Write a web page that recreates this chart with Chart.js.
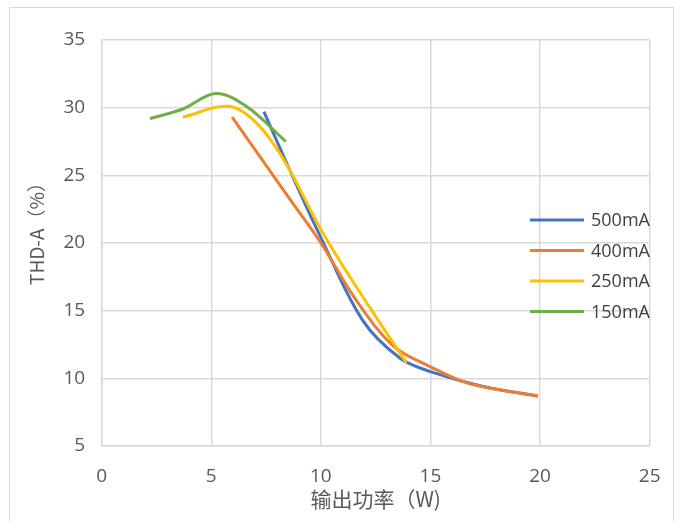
<!DOCTYPE html>
<html>
<head>
<meta charset="utf-8">
<script src="https://cdn.jsdelivr.net/npm/chart.js@4/dist/chart.umd.min.js"></script>
<style>
  html, body { margin: 0; padding: 0; background: #fff; }
  #wrap { position: relative; width: 680px; height: 521px; overflow: hidden; }
  #frame { position: absolute; left: 9px; top: 7px; width: 663px; height: 600px; border: 1px solid #d9d9d9; pointer-events: none; }
</style>
</head>
<body>
<div id="wrap">
  <canvas id="thd"></canvas>
  <div id="frame"></div>
</div>
<script>
// data
const seriesNames = ["500mA", "400mA", "250mA", "150mA"];
const seriesColors = ["#4472C4", "#ED7D31", "#FFC000", "#70AD47"];

const power500 = [7.4, 8.8, 10.0, 11.9, 13.6, 15.0, 17.4, 19.9];
const thd500   = [29.7, 24.6, 20.4, 14.3, 11.5, 10.5, 9.4, 8.7];

const power400 = [5.95, 8.6, 10.0, 11.6, 13.3, 15.0, 16.8, 19.9];
const thd400   = [29.3, 23.2, 20.0, 15.8, 12.4, 10.85, 9.6, 8.7];

const power250 = [3.7, 5.8, 7.1, 8.4, 10.0, 11.6, 13.9];
const thd250   = [29.3, 30.1, 28.8, 25.9, 21.0, 16.8, 11.15];

const power150 = [2.2, 3.7, 5.2, 6.6, 8.4];
const thd150   = [29.2, 29.9, 31.05, 30.1, 27.5];

const xTicks = [0, 5, 10, 15, 20, 25];
const yTicks = [5, 10, 15, 20, 25, 30, 35];

const xTitle = "输出功率（W)";
const yTitle = "THD-A（%）";

const powers = [power500, power400, power250, power150];
const thds = [thd500, thd400, thd250, thd150];

function pairs(xs, ys){ return xs.map((x,i)=>({ x, y: ys[i] })); }

const datasets = seriesNames.map((name,i)=>({
  label: name,
  data: pairs(powers[i], thds[i]),
  borderColor: seriesColors[i],
  backgroundColor: seriesColors[i],
  borderWidth: 3,
  pointRadius: 0,
  tension: 0.35,
  fill: false,
  order: seriesNames.length - i   // later series drawn on top, like the original
}));

// legend drawn over the plot, right side
const inlineLegend = {
  id: "inlineLegend",
  afterDraw(chart){
    const ctx = chart.ctx;
    const x0 = 530, x1 = 584, tx = 591;
    const y0 = 220, gap = 30.5;
    ctx.save();
    ctx.font = "18px 'Open Sans'";
    ctx.textBaseline = "middle";
    ctx.textAlign = "left";
    chart.data.datasets.forEach((ds,i)=>{
      const y = y0 + i*gap;
      ctx.strokeStyle = ds.borderColor;
      ctx.lineWidth = 3;
      ctx.beginPath(); ctx.moveTo(x0, y); ctx.lineTo(x1, y); ctx.stroke();
      ctx.fillStyle = "#404040";
      ctx.fillText(ds.label, tx, y + 1);
    });
    ctx.restore();
  }
};

// y title sits a bit above the plot's middle in the original
const yTitlePlugin = {
  id: "yTitlePlugin",
  afterDraw(chart){
    const ctx = chart.ctx;
    ctx.save();
    ctx.translate(37, 229);
    ctx.rotate(-Math.PI/2);
    ctx.font = "19px 'Noto Sans CJK SC'";
    ctx.fillStyle = "#595959";
    ctx.textAlign = "center";
    ctx.textBaseline = "middle";
    ctx.fillText(yTitle, 0, 0);
    ctx.restore();
  }
};

const whiteBg = {
  id: "whiteBg",
  beforeDraw(chart){
    const ctx = chart.ctx;
    ctx.save();
    ctx.fillStyle = "#fff";
    ctx.fillRect(0, 0, chart.width, chart.height);
    ctx.restore();
  }
};

const gridColor = "#d9d9d9";
const tickFont = { family: "'Open Sans'", size: 19 };

new Chart(document.getElementById("thd"), {
  type: "line",
  data: { datasets },
  plugins: [whiteBg, inlineLegend, yTitlePlugin],
  options: {
    responsive: true,
    maintainAspectRatio: false,
    animation: false,
    layout: { padding: { left: 0, top: 40, right: 28.3, bottom: 0 } },
    plugins: { legend: { display: false }, tooltip: { enabled: false } },
    scales: {
      x: {
        type: "linear",
        min: 0, max: 25,
        afterFit: s => { s.height = 75; },
        afterBuildTicks: s => { s.ticks = xTicks.map(v=>({ value: v })); },
        grid: { color: gridColor, lineWidth: 1.5, drawTicks: false },
        border: { color: gridColor, width: 1.5 },
        ticks: { color: "#595959", font: tickFont, padding: 19.5, maxRotation: 0 },
        title: {
          display: true,
          text: xTitle,
          color: "#595959",
          font: { family: "'Noto Sans CJK SC'", size: 21 },
          padding: { top: 0, bottom: 9 }
        }
      },
      y: {
        min: 5, max: 35,
        afterFit: s => { s.width = 101.7; },
        afterBuildTicks: s => { s.ticks = yTicks.map(v=>({ value: v })); },
        grid: { color: gridColor, lineWidth: 1.5, drawTicks: false },
        border: { color: gridColor, width: 1.5 },
        ticks: { color: "#595959", font: tickFont, padding: 16.5 }
      }
    }
  }
});
</script>
</body>
</html>
